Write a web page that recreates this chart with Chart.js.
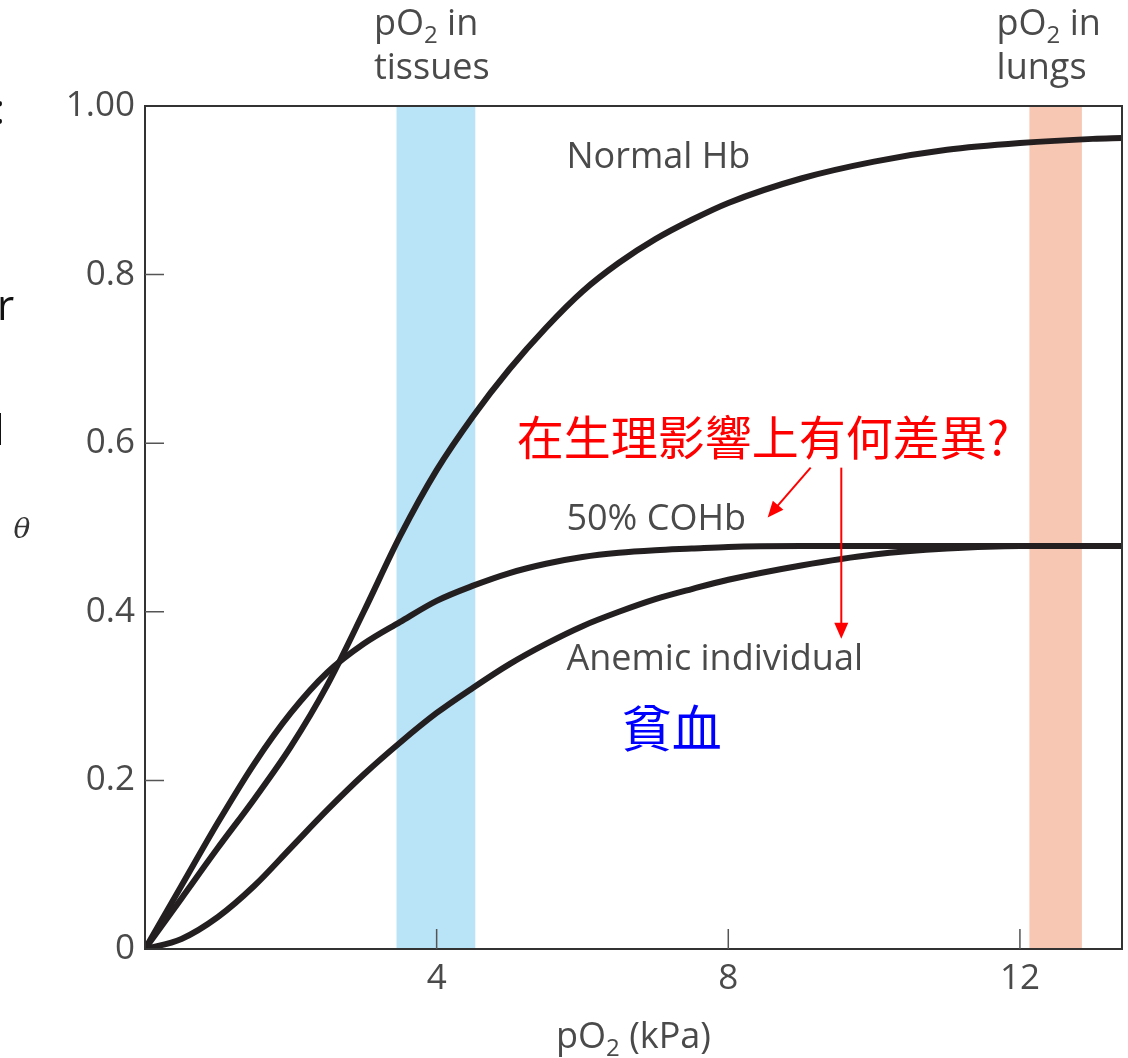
<!DOCTYPE html>
<html>
<head>
<meta charset="utf-8">
<script src="https://cdn.jsdelivr.net/npm/chart.js@4/dist/chart.umd.min.js"></script>
<style>
  body { margin: 0; background: #fff; }
  #wrap { width: 1128px; height: 1058px; position: relative; }
</style>
</head>
<body>
<div id="wrap"><canvas id="chart-hb"></canvas></div>
<script>
// pO2 (kPa) y saturación θ
const presion = [0, 0.5, 1, 1.5, 2, 2.5, 3, 3.5, 4, 4.5, 5, 5.5, 6, 6.5, 7, 7.5, 8, 9, 10, 11, 12, 13, 13.4];
const normalHb = [0, 0.06, 0.12, 0.178, 0.24, 0.313, 0.40, 0.49, 0.568, 0.632, 0.688, 0.737, 0.78, 0.814, 0.842, 0.865, 0.885, 0.914, 0.934, 0.948, 0.956, 0.961, 0.962];
const coHb = [0, 0.075, 0.15, 0.22, 0.28, 0.328, 0.362, 0.388, 0.413, 0.431, 0.446, 0.457, 0.465, 0.47, 0.473, 0.475, 0.477, 0.478, 0.478, 0.478, 0.478, 0.478, 0.478];
const anemico = [0, 0.012, 0.038, 0.075, 0.12, 0.165, 0.207, 0.245, 0.28, 0.31, 0.338, 0.362, 0.383, 0.40, 0.415, 0.427, 0.438, 0.455, 0.468, 0.475, 0.478, 0.478, 0.478];

const xTicks = [4, 8, 12];
const yTicks = [0, 0.2, 0.4, 0.6, 0.8, 1.0];

// franjas de pO2 en tejidos y pulmones
const bandaTejidos = [3.45, 4.53];
const bandaPulmones = [12.13, 12.85];

const LATIN = '"Open Sans", "DejaVu Sans", sans-serif';
const CJK = '"Noto Sans CJK TC", "Noto Sans CJK SC", sans-serif';
const GRIS = '#4a4a4a';

function puntos(ys) {
    return presion.map((x, i) => ({ x: x, y: ys[i] }));
}

// texto con subíndice: partes = [[texto, esSub], ...]
function textoSub(ctx, partes, x, y, size, align) {
    const sub = Math.round(size * 0.68);
    let total = 0;
    partes.forEach(p => {
        ctx.font = (p[1] ? sub : size) + 'px ' + LATIN;
        total += ctx.measureText(p[0]).width;
    });
    let cx = align === 'center' ? x - total / 2 : x;
    ctx.textAlign = 'left';
    ctx.textBaseline = 'alphabetic';
    partes.forEach(p => {
        ctx.font = (p[1] ? sub : size) + 'px ' + LATIN;
        ctx.fillText(p[0], cx, p[1] ? y + size * 0.22 : y);
        cx += ctx.measureText(p[0]).width;
    });
}

function flecha(ctx, x1, y1, x2, y2) {
    const ang = Math.atan2(y2 - y1, x2 - x1);
    const L = 16, W = 7;
    ctx.beginPath();
    ctx.moveTo(x1, y1);
    ctx.lineTo(x2 - Math.cos(ang) * L * 0.8, y2 - Math.sin(ang) * L * 0.8);
    ctx.stroke();
    ctx.beginPath();
    ctx.moveTo(x2, y2);
    ctx.lineTo(x2 - Math.cos(ang) * L - Math.sin(ang) * W, y2 - Math.sin(ang) * L + Math.cos(ang) * W);
    ctx.lineTo(x2 - Math.cos(ang) * L + Math.sin(ang) * W, y2 - Math.sin(ang) * L - Math.cos(ang) * W);
    ctx.closePath();
    ctx.fill();
}

const pluginFondo = {
    id: 'bandas',
    beforeDatasetsDraw(chart) {
        const { ctx, chartArea: a, scales: { x } } = chart;
        ctx.save();
        ctx.fillStyle = '#b9e3f7';
        ctx.fillRect(x.getPixelForValue(bandaTejidos[0]), a.top,
            x.getPixelForValue(bandaTejidos[1]) - x.getPixelForValue(bandaTejidos[0]), a.bottom - a.top);
        ctx.fillStyle = '#f8c7b3';
        ctx.fillRect(x.getPixelForValue(bandaPulmones[0]), a.top,
            x.getPixelForValue(bandaPulmones[1]) - x.getPixelForValue(bandaPulmones[0]), a.bottom - a.top);
        ctx.restore();
    }
};

const pluginMarco = {
    id: 'marco',
    afterDraw(chart) {
        const { ctx, chartArea: a, scales: { x, y } } = chart;
        const px = v => x.getPixelForValue(v);
        const py = v => y.getPixelForValue(v);
        ctx.save();

        // marco y marcas hacia dentro
        ctx.strokeStyle = '#333';
        ctx.lineWidth = 2;
        ctx.strokeRect(a.left, a.top, a.right - a.left, a.bottom - a.top);
        ctx.strokeStyle = '#555';
        ctx.lineWidth = 1.5;
        ctx.beginPath();
        xTicks.forEach(v => { ctx.moveTo(px(v), a.bottom); ctx.lineTo(px(v), a.bottom - 20); });
        yTicks.slice(1, -1).forEach(v => { ctx.moveTo(a.left, py(v)); ctx.lineTo(a.left + 19, py(v)); });
        ctx.stroke();

        // etiquetas de curvas
        ctx.fillStyle = GRIS;
        ctx.font = '36px ' + LATIN;
        ctx.textAlign = 'left';
        ctx.textBaseline = 'middle';
        ctx.fillText('Normal Hb', px(5.78), py(0.939));
        ctx.fillText('50% COHb', px(5.78), py(0.509));
        ctx.fillText('Anemic individual', px(5.78), py(0.343));

        // encabezados de franjas
        textoSub(ctx, [['pO', false], ['2', true], [' in', false]], px(3.14), py(1.084), 36, 'left');
        ctx.font = '36px ' + LATIN;
        ctx.textBaseline = 'alphabetic';
        ctx.fillText('tissues', px(3.14), py(1.032));
        textoSub(ctx, [['pO', false], ['2', true], [' in', false]], px(11.68), py(1.084), 36, 'left');
        ctx.font = '36px ' + LATIN;
        ctx.fillText('lungs', px(11.68), py(1.032));

        // título eje x
        textoSub(ctx, [['pO', false], ['2', true], [' (kPa)', false]], (a.left + a.right) / 2, 1048, 36, 'center');

        // θ
        ctx.fillStyle = '#333';
        ctx.font = 'italic 28px "DejaVu Serif", serif';
        ctx.textAlign = 'center';
        ctx.textBaseline = 'middle';
        ctx.fillText('θ', 22, py(0.496));

        // restos de texto cortado a la izquierda
        ctx.fillStyle = '#111';
        ctx.font = '42px ' + LATIN;
        ctx.textAlign = 'left';
        ctx.textBaseline = 'alphabetic';
        ctx.fillText(':', -6, 124);
        ctx.fillText('r', -3, 320);
        ctx.fillText('l', -6, 445);

        // anotaciones en chino
        ctx.fillStyle = '#ff0000';
        ctx.font = '47px ' + CJK;
        ctx.textBaseline = 'middle';
        ctx.fillText('在生理影響上有何差異?', px(5.10), py(0.607));
        ctx.strokeStyle = '#ff0000';
        ctx.lineWidth = 2;
        flecha(ctx, px(9.13), py(0.571), px(8.54), py(0.512));
        flecha(ctx, px(9.55), py(0.571), px(9.55), py(0.368));

        ctx.fillStyle = '#0000ff';
        ctx.font = '50px ' + CJK;
        ctx.fillText('貧血', px(6.54), py(0.262));
        ctx.restore();
    }
};

const serie = (datos) => ({
    data: puntos(datos),
    borderColor: '#231f20',
    borderWidth: 6,
    pointRadius: 0,
    fill: false,
    cubicInterpolationMode: 'monotone'
});

new Chart(document.getElementById('chart-hb'), {
    type: 'line',
    data: {
        datasets: [serie(normalHb), serie(coHb), serie(anemico)]
    },
    options: {
        responsive: true,
        maintainAspectRatio: false,
        animation: false,
        layout: { padding: { top: 106, right: 6, left: 0, bottom: 0 } },
        plugins: {
            legend: { display: false },
            tooltip: { enabled: false }
        },
        scales: {
            x: {
                type: 'linear',
                min: 0,
                max: 13.4,
                afterFit: s => { s.height = 109; },
                afterBuildTicks: s => { s.ticks = xTicks.map(v => ({ value: v })); },
                grid: { display: false, drawTicks: false },
                border: { display: false },
                ticks: {
                    padding: 9,
                    color: GRIS,
                    font: { family: LATIN, size: 35 },
                    callback: v => String(v)
                }
            },
            y: {
                min: 0,
                max: 1,
                afterFit: s => { s.width = 145; },
                afterBuildTicks: s => { s.ticks = yTicks.map(v => ({ value: v })); },
                grid: { display: false, drawTicks: false },
                border: { display: false },
                ticks: {
                    padding: 10,
                    color: GRIS,
                    font: { family: LATIN, size: 35 },
                    callback: v => v === 1 ? '1.00' : v === 0 ? '0' : v.toFixed(1)
                }
            }
        }
    },
    plugins: [pluginFondo, pluginMarco]
});
</script>
</body>
</html>
